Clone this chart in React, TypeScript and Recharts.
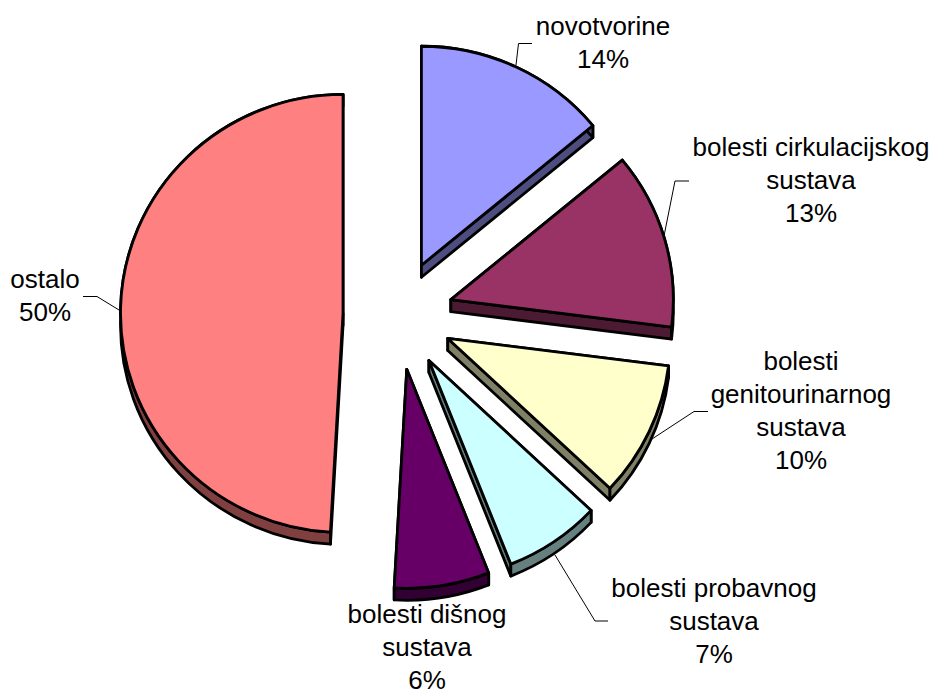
import { Pie, PieChart } from "recharts";

// Slices, clockwise from 12 o'clock
const categories = [
  "novotvorine",
  "bolesti cirkulacijskog sustava",
  "bolesti genitourinarnog sustava",
  "bolesti probavnog sustava",
  "bolesti dišnog sustava",
  "ostalo",
];
const shares = [14, 13, 10, 7, 6.9, 49.1];
const percentLabels = ["14%", "13%", "10%", "7%", "6%", "50%"];
const topColors = ["#9999FF", "#993366", "#FFFFCC", "#CCFFFF", "#660066", "#FF8080"];
const sideColors = ["#4D4D80", "#4D1A33", "#808066", "#668080", "#330033", "#804040"];

const labelLines = [
  ["novotvorine"],
  ["bolesti cirkulacijskog", "sustava"],
  ["bolesti", "genitourinarnog", "sustava"],
  ["bolesti probavnog", "sustava"],
  ["bolesti dišnog", "sustava"],
  ["ostalo"],
];

// Label anchors and leader lines, in chart pixels
const labelAnchors = [
  { x: 603, y: 35, leader: "516,65 518.5,43.5 532,43.5" },
  { x: 811, y: 156, leader: "664,236 675,181 689,181" },
  { x: 801, y: 370, leader: "652,439 694,411.5 708,411.5" },
  { x: 714, y: 597, leader: "555,555 595,621 608,621" },
  { x: 427, y: 623, leader: "" },
  { x: 45, y: 288, leader: "119,310 97,296.5 83,296.5" },
];

const WIDTH = 931;
const HEIGHT = 690;
const EXPLODE = 55;
const DEPTH = 12;
const Y_SQUASH = 219 / 222.5;
const LINE_HEIGHT = 33;

const chartData = categories.map((name, i) => ({
  name,
  value: shares[i],
  top: topColors[i],
  side: sideColors[i],
}));

// Exploded slice with a short extruded wall under it
function SliceShape(props: any) {
  const { cx, cy, outerRadius: r, startAngle, endAngle, payload } = props;
  const top = payload?.top ?? props.top;
  const side = payload?.side ?? props.side;
  const rad = Math.PI / 180;
  const mid = ((startAngle + endAngle) / 2) * rad;
  const ox = cx + EXPLODE * Math.cos(mid);
  const oy = cy - EXPLODE * Math.sin(mid);
  const pt = (deg: number) => [ox + r * Math.cos(deg * rad), oy - r * Y_SQUASH * Math.sin(deg * rad)];
  const [sx, sy] = pt(startAngle);
  const [ex, ey] = pt(endAngle);
  const large = Math.abs(endAngle - startAngle) > 180 ? 1 : 0;
  const ry = r * Y_SQUASH;
  const wall = { stroke: "#000", strokeWidth: 2.8, strokeLinejoin: "round" as const };
  return (
    <g>
      <path
        d={`M${ox},${oy} L${sx},${sy} L${sx},${sy + DEPTH} L${ox},${oy + DEPTH} Z`}
        fill={side}
        {...wall}
      />
      <path
        d={`M${ox},${oy} L${ex},${ey} L${ex},${ey + DEPTH} L${ox},${oy + DEPTH} Z`}
        fill={side}
        {...wall}
      />
      <path
        d={`M${sx},${sy} A${r},${ry} 0 ${large} 1 ${ex},${ey} L${ex},${ey + DEPTH} A${r},${ry} 0 ${large} 0 ${sx},${sy + DEPTH} Z`}
        fill={side}
        {...wall}
      />
      <path
        d={`M${ox},${oy} L${sx},${sy} A${r},${ry} 0 ${large} 1 ${ex},${ey} Z`}
        fill={top}
        stroke="#000"
        strokeWidth={2.8}
        strokeLinejoin="round"
      />
    </g>
  );
}

function SliceLabel({ index }: any) {
  const anchor = labelAnchors[index];
  const lines = [...labelLines[index], percentLabels[index]];
  return (
    <g>
      {anchor.leader && <polyline points={anchor.leader} fill="none" stroke="#000" strokeWidth={1} />}
      <text
        textAnchor="middle"
        fontFamily="Liberation Sans"
        fontSize={26}
        fill="#000"
      >
        {lines.map((line, i) => (
          <tspan key={i} x={anchor.x} y={anchor.y + i * LINE_HEIGHT}>
            {line}
          </tspan>
        ))}
      </text>
    </g>
  );
}

export default function App() {
  return (
    <div style={{ position: "absolute", left: 0, top: 0, width: WIDTH, height: HEIGHT, background: "#fff" }}>
      <PieChart width={WIDTH} height={HEIGHT} margin={{ top: 0, right: 0, bottom: 0, left: 0 }}>
        <Pie
          data={chartData}
          dataKey="value"
          nameKey="name"
          cx={398}
          cy={315}
          outerRadius={222.5}
          startAngle={90}
          endAngle={-270}
          stroke="#000"
          isAnimationActive={false}
          shape={SliceShape}
          label={SliceLabel}
          labelLine={false}
        />
      </PieChart>
    </div>
  );
}
